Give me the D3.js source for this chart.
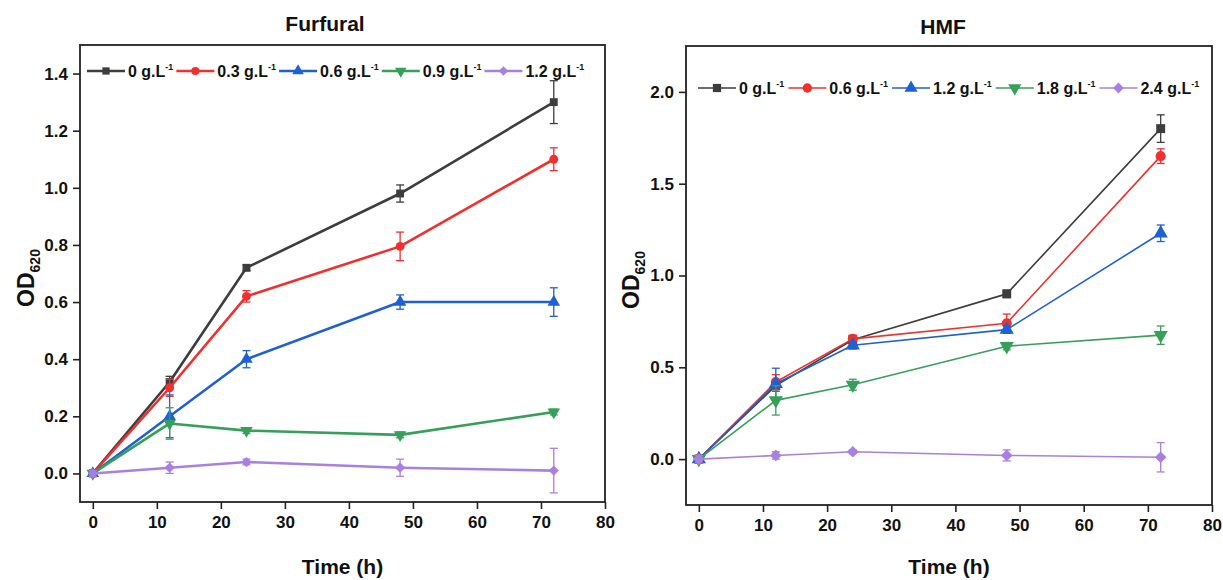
<!DOCTYPE html>
<html>
<head>
<meta charset="utf-8">
<script src="https://cdn.jsdelivr.net/npm/d3@7"></script>
<style>
  html, body { margin: 0; padding: 0; background: #fff; }
  svg { display: block; font-family: "Liberation Sans", Arial, sans-serif; }
</style>
</head>
<body>
<script>
// Sampling times (h)
const time = [0, 12, 24, 48, 72];

// Furfural concentrations (g/L) and OD620 readings with standard deviations
const furfuralLevels = ["0", "0.3", "0.6", "0.9", "1.2"];
const furfural_0   = [0.00, 0.32, 0.72, 0.98, 1.30];
const furfural_0_3 = [0.00, 0.30, 0.62, 0.795, 1.10];
const furfural_0_6 = [0.00, 0.20, 0.40, 0.60, 0.60];
const furfural_0_9 = [0.00, 0.175, 0.15, 0.135, 0.215];
const furfural_1_2 = [0.00, 0.02, 0.04, 0.02, 0.01];
const furfuralErr_0   = [0.01, 0.02, 0.01, 0.03, 0.075];
const furfuralErr_0_3 = [0.01, 0.03, 0.02, 0.05, 0.04];
const furfuralErr_0_6 = [0.01, 0.075, 0.03, 0.025, 0.05];
const furfuralErr_0_9 = [0.01, 0.055, 0.01, 0.01, 0.01];
const furfuralErr_1_2 = [0.01, 0.02, 0.01, 0.03, 0.078];

// HMF concentrations (g/L) and OD620 readings with standard deviations
const hmfLevels = ["0", "0.6", "1.2", "1.8", "2.4"];
const hmf_0   = [0.00, 0.40, 0.65, 0.90, 1.80];
const hmf_0_6 = [0.00, 0.42, 0.655, 0.74, 1.65];
const hmf_1_2 = [0.00, 0.41, 0.62, 0.705, 1.23];
const hmf_1_8 = [0.00, 0.32, 0.405, 0.615, 0.675];
const hmf_2_4 = [0.00, 0.02, 0.04, 0.02, 0.01];
const hmfErr_0   = [0.02, 0.03, 0.02, 0.02, 0.075];
const hmfErr_0_6 = [0.01, 0.04, 0.02, 0.05, 0.04];
const hmfErr_1_2 = [0.01, 0.085, 0.02, 0.02, 0.045];
const hmfErr_1_8 = [0.01, 0.08, 0.03, 0.02, 0.05];
const hmfErr_2_4 = [0.02, 0.02, 0.01, 0.03, 0.08];

// Axis ticks
const xTicks = [0, 10, 20, 30, 40, 50, 60, 70, 80];
const furfuralYTicks = [0.0, 0.2, 0.4, 0.6, 0.8, 1.0, 1.2, 1.4];
const hmfYTicks = [0.0, 0.5, 1.0, 1.5, 2.0];

const colors = ["#3d3d3d", "#f0302e", "#1f60d3", "#36a05a", "#a97fe0"];
const shapes = ["square", "circle", "triangleUp", "triangleDown", "diamond"];

const W = 1223, H = 580;
const svg = d3.select("body").append("svg").attr("width", W).attr("height", H);

function symbolPath(shape, size) {
  if (shape === "square") return d3.symbol(d3.symbolSquare, size)();
  if (shape === "circle") return d3.symbol(d3.symbolCircle, size)();
  if (shape === "triangleUp" || shape === "triangleDown") return d3.symbol(d3.symbolTriangle, size * 1.1)();
  return d3.symbol(d3.symbolSquare, size * 0.85)();
}
function symbolRotation(shape) {
  if (shape === "triangleDown") return 180;
  if (shape === "diamond") return 45;
  return 0;
}

function drawPanel(cfg) {
  const g = svg.append("g");
  const x = d3.scaleLinear().domain([-2, 80]).range([cfg.x0, cfg.x1]);
  const y = d3.scaleLinear().domain(cfg.yDomain).range([cfg.y1, cfg.y0]);

  // axes with outward ticks
  g.append("g")
    .attr("transform", `translate(0,${cfg.y1})`)
    .call(d3.axisBottom(x).tickValues(xTicks).tickSize(7).tickPadding(7).tickFormat(d3.format("d")))
    .call(a => a.select(".domain").remove())
    .call(a => a.selectAll("line").attr("stroke", "#222").attr("stroke-width", 1.6))
    .call(a => a.selectAll("text").attr("font-size", 17).attr("font-weight", "bold")
      .attr("fill", "#111").attr("font-family", "Liberation Sans, Arial, sans-serif"));

  g.append("g")
    .attr("transform", `translate(${cfg.x0},0)`)
    .call(d3.axisLeft(y).tickValues(cfg.yTicks).tickSize(7).tickPadding(5).tickFormat(d3.format(".1f")))
    .call(a => a.select(".domain").remove())
    .call(a => a.selectAll("line").attr("stroke", "#222").attr("stroke-width", 1.6))
    .call(a => a.selectAll("text").attr("font-size", 17).attr("font-weight", "bold")
      .attr("fill", "#111").attr("font-family", "Liberation Sans, Arial, sans-serif"));

  // frame
  g.append("rect")
    .attr("x", cfg.x0).attr("y", cfg.y0)
    .attr("width", cfg.x1 - cfg.x0).attr("height", cfg.y1 - cfg.y0)
    .attr("fill", "none").attr("stroke", "#222").attr("stroke-width", 1.8);

  // title
  g.append("text")
    .attr("x", cfg.titleX).attr("y", cfg.titleY)
    .attr("text-anchor", "middle")
    .attr("font-size", 21).attr("font-weight", "bold").attr("fill", "#111")
    .text(cfg.title);

  // x label
  g.append("text")
    .attr("x", (cfg.x0 + cfg.x1) / 2).attr("y", 574)
    .attr("text-anchor", "middle")
    .attr("font-size", 21).attr("font-weight", "bold").attr("fill", "#111")
    .text("Time (h)");

  // y label OD620
  const yl = g.append("text")
    .attr("transform", `translate(${cfg.ylabelX},${cfg.ylabelY}) rotate(-90)`)
    .attr("text-anchor", "middle")
    .attr("font-size", 23).attr("font-weight", "bold").attr("fill", "#111");
  yl.append("tspan").text("OD");
  yl.append("tspan").attr("font-size", 14).attr("dy", 6).text("620");

  // series
  const line = d3.line().x((d, i) => x(time[i])).y(d => y(d));
  cfg.series.forEach((s, si) => {
    const sg = g.append("g");
    sg.append("path")
      .attr("d", line(s.values))
      .attr("fill", "none").attr("stroke", colors[si])
      .attr("stroke-width", cfg.lineWidth).attr("stroke-linejoin", "round");
    // error bars
    s.values.forEach((v, i) => {
      const cx = x(time[i]);
      const top = y(v + s.errors[i]), bot = y(v - s.errors[i]);
      sg.append("line").attr("x1", cx).attr("x2", cx).attr("y1", top).attr("y2", bot)
        .attr("stroke", colors[si]).attr("stroke-width", 1.3);
      [top, bot].forEach(yy => {
        sg.append("line").attr("x1", cx - 4).attr("x2", cx + 4).attr("y1", yy).attr("y2", yy)
          .attr("stroke", colors[si]).attr("stroke-width", 1.3);
      });
    });
    // markers
    sg.selectAll("path.mk").data(s.values).join("path")
      .attr("class", "mk")
      .attr("d", symbolPath(shapes[si], cfg.markerSize))
      .attr("transform", (d, i) => `translate(${x(time[i])},${y(d)}) rotate(${symbolRotation(shapes[si])})`)
      .attr("fill", colors[si]);
  });

  // legend
  let lx = cfg.x0 + cfg.legendOffset;
  cfg.series.forEach((s, si) => {
    const lg = g.append("g");
    lg.append("line").attr("x1", lx).attr("x2", lx + 38).attr("y1", cfg.legendY).attr("y2", cfg.legendY)
      .attr("stroke", colors[si]).attr("stroke-width", cfg.lineWidth);
    lg.append("path")
      .attr("d", symbolPath(shapes[si], cfg.markerSize * 0.85))
      .attr("transform", `translate(${lx + 19},${cfg.legendY}) rotate(${symbolRotation(shapes[si])})`)
      .attr("fill", colors[si]);
    const t = lg.append("text")
      .attr("x", lx + 41).attr("y", cfg.legendY + 6)
      .attr("font-size", 16).attr("font-weight", "bold").attr("fill", "#111");
    t.append("tspan").text(s.label + " g.L");
    t.append("tspan").attr("font-size", 9).attr("dy", -7).text("-1");
    lx += 41 + t.node().getComputedTextLength() + cfg.legendGap;
  });
}

drawPanel({
  x0: 80, x1: 605, y0: 45, y1: 502,
  yDomain: [-0.1, 1.5], yTicks: furfuralYTicks,
  title: "Furfural", titleX: 325, titleY: 31,
  ylabelX: 34, ylabelY: 278,
  lineWidth: 2.6, markerSize: 62,
  legendY: 71, legendOffset: 7, legendGap: 3,
  series: [
    { label: furfuralLevels[0], values: furfural_0,   errors: furfuralErr_0 },
    { label: furfuralLevels[1], values: furfural_0_3, errors: furfuralErr_0_3 },
    { label: furfuralLevels[2], values: furfural_0_6, errors: furfuralErr_0_6 },
    { label: furfuralLevels[3], values: furfural_0_9, errors: furfuralErr_0_9 },
    { label: furfuralLevels[4], values: furfural_1_2, errors: furfuralErr_1_2 }
  ]
});

drawPanel({
  x0: 686, x1: 1212, y0: 46, y1: 505,
  yDomain: [-0.25, 2.25], yTicks: hmfYTicks,
  title: "HMF", titleX: 943, titleY: 34,
  ylabelX: 639, ylabelY: 280,
  lineWidth: 1.6, markerSize: 80,
  legendY: 88, legendOffset: 12, legendGap: 4,
  series: [
    { label: hmfLevels[0], values: hmf_0,   errors: hmfErr_0 },
    { label: hmfLevels[1], values: hmf_0_6, errors: hmfErr_0_6 },
    { label: hmfLevels[2], values: hmf_1_2, errors: hmfErr_1_2 },
    { label: hmfLevels[3], values: hmf_1_8, errors: hmfErr_1_8 },
    { label: hmfLevels[4], values: hmf_2_4, errors: hmfErr_2_4 }
  ]
});
</script>
</body>
</html>
